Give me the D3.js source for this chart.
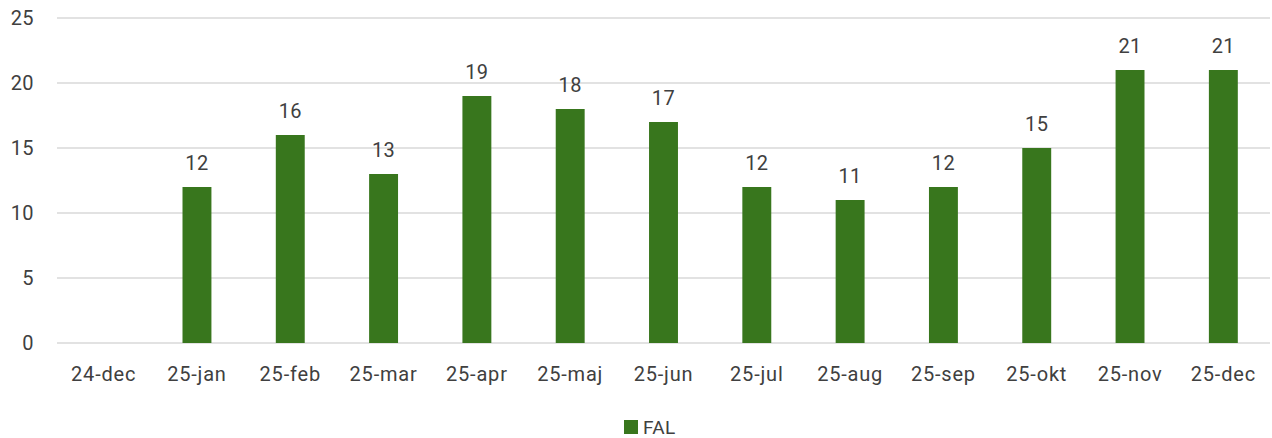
<!DOCTYPE html>
<html>
<head>
<meta charset="utf-8">
<script src="https://cdn.jsdelivr.net/npm/d3@7"></script>
<style>
  body { margin: 0; background: #fff; }
  text { font-family: Roboto, "Open Sans", sans-serif; fill: #404040; }
</style>
</head>
<body>
<script>
const months = ['24-dec','25-jan','25-feb','25-mar','25-apr','25-maj','25-jun','25-jul','25-aug','25-sep','25-okt','25-nov','25-dec']
const falValues = [null,12,16,13,19,18,17,12,11,12,15,21,21]
const yTicks = [0,5,10,15,20,25]
const seriesName = 'FAL'

const width = 1272, height = 438
const margin = {top: 18, right: 2, bottom: 95, left: 57}
const barColor = '#38761d'

const svg = d3.select('body').append('svg')
    .attr('width', width)
    .attr('height', height)

const x = d3.scaleBand()
    .domain(months)
    .range([margin.left, width - margin.right])
    .paddingInner(0.69)
    .paddingOuter(0.345)

const y = d3.scaleLinear()
    .domain([0, 25])
    .range([height - margin.bottom, margin.top])

// gridlines
svg.append('g')
  .selectAll('line')
  .data(yTicks)
  .join('line')
    .attr('x1', margin.left)
    .attr('x2', width - margin.right)
    .attr('y1', d => y(d))
    .attr('y2', d => y(d))
    .attr('stroke', '#d9d9d9')
    .attr('stroke-width', 1.3)

// y labels
svg.append('g')
  .selectAll('text')
  .data(yTicks)
  .join('text')
    .attr('x', 34)
    .attr('y', d => y(d))
    .attr('dy', '0.35em')
    .attr('text-anchor', 'end')
    .attr('font-size', '20px')
    .attr('letter-spacing', '0.4px')
    .text(d => d)

// x labels
svg.append('g')
  .selectAll('text')
  .data(months)
  .join('text')
    .attr('x', d => x(d) + x.bandwidth() / 2)
    .attr('y', y(0) + 38)
    .attr('text-anchor', 'middle')
    .attr('font-size', '20px')
    .attr('letter-spacing', '0.8px')
    .text(d => d)

const data = months.map((m, i) => ({month: m, value: falValues[i]})).filter(d => d.value != null)

svg.append('g')
  .selectAll('rect')
  .data(data)
  .join('rect')
    .attr('x', d => x(d.month))
    .attr('y', d => y(d.value))
    .attr('width', x.bandwidth())
    .attr('height', d => y(0) - y(d.value))
    .attr('fill', barColor)

svg.append('g')
  .selectAll('text')
  .data(data)
  .join('text')
    .attr('x', d => x(d.month) + x.bandwidth() / 2)
    .attr('y', d => y(d.value) - 17)
    .attr('text-anchor', 'middle')
    .attr('font-size', '20px')
    .attr('letter-spacing', '0.4px')
    .text(d => d.value)

// legend
const legend = svg.append('g').attr('transform', 'translate(624,420)')
legend.append('rect')
    .attr('width', 14)
    .attr('height', 14)
    .attr('fill', barColor)
legend.append('text')
    .attr('x', 19)
    .attr('y', 14)
    .attr('font-size', '19px')
    .attr('letter-spacing', '0.4px')
    .text(seriesName)
</script>
</body>
</html>
